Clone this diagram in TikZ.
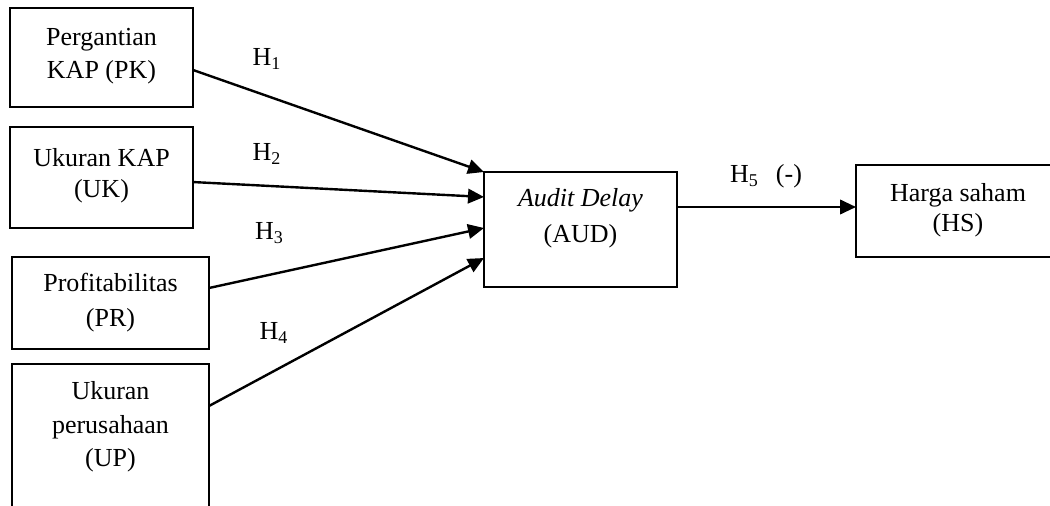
\documentclass[tikz,border=0pt]{standalone}
\usepackage{fontspec}
\setmainfont[Ligatures=NoCommon]{Liberation Serif}
\usetikzlibrary{arrows.meta,calc}
\newcommand{\hsub}[1]{\raisebox{-4.3pt}{\fontsize{18}{18}\selectfont #1}}
\tikzset{
  box/.style={draw, line width=2pt, inner sep=0pt, outer sep=0pt},
  lbl/.style={align=center, inner sep=0pt},
  hyp/.style={anchor=base west, inner sep=0pt},
  conn/.style={line width=2.4pt, -{Triangle[length=16pt,width=14.5pt]}}
}
\begin{document}
\begin{tikzpicture}[x=1pt, y=-1pt, font=\fontsize{26}{33}\selectfont]
\useasboundingbox (0,0) rectangle (1050,506);
\clip (0,0) rectangle (1050,506);
% boxes
\node[box, minimum width=183pt, minimum height=99pt]  (pk)  at (101.5,57.5) {};
\node[box, minimum width=183pt, minimum height=101pt] (uk)  at (101.5,177.5) {};
\node[box, minimum width=197pt, minimum height=92pt]  (pr)  at (110.5,303) {};
\node[box, minimum width=197pt, minimum height=166pt] (up)  at (110.5,447) {};
\node[box, minimum width=193pt, minimum height=115pt] (aud) at (580.5,229.5) {};
\node[box, minimum width=204pt, minimum height=92pt]  (hs)  at (958,211) {};
% texts
\node[lbl, font=\fontsize{26}{33}\selectfont]   (pkt)  at (101.5,55.9) {Pergantian\\KAP (PK)};
\node[lbl, font=\fontsize{26}{31.6}\selectfont] (ukt)  at (101.5,175.9) {Ukuran KAP\\(UK)};
\node[lbl, font=\fontsize{26}{35}\selectfont]   (prt)  at (110.5,302.6) {Profitabilitas\\(PR)};
\node[lbl, font=\fontsize{26}{33.65}\selectfont] (upt) at (110.5,427.05) {Ukuran\\perusahaan\\(UP)};
\node[lbl, font=\fontsize{26}{36.6}\selectfont] (audt) at (580.5,218.4) {\textit{Audit Delay}\\(AUD)};
\node[lbl, font=\fontsize{26}{30}\selectfont]   (hst)  at (958,210.1) {Harga saham\\(HS)};
% connectors
\draw[conn] ($(pk.north east)!0.626!(pk.south east)$) -- (aud.north west);
\draw[conn] ($(uk.north east)!0.545!(uk.south east)$) -- ($(aud.north west)!0.217!(aud.south west)$);
\draw[conn] ($(pr.north east)!0.337!(pr.south east)$) -- ($(aud.north west)!0.487!(aud.south west)$);
\draw[conn] ([yshift=-42pt]up.north east) -- ($(aud.north west)!0.748!(aud.south west)$);
\draw[conn] ([yshift=22.5pt]aud.east) -- ([yshift=22.5pt]aud.east -| hs.west);
% hypothesis labels
\node[hyp] (h1) at (252.5,65) {H\hsub{1}};
\node[hyp] (h2) at (252.5,160) {H\hsub{2}};
\node[hyp] (h3) at (255,239.3) {H\hsub{3}};
\node[hyp] (h4) at (259.3,339) {H\hsub{4}};
\node[hyp] (h5) at (730,182.3) {H\hsub{5}\hspace{18pt}(-)};
\end{tikzpicture}
\end{document}
